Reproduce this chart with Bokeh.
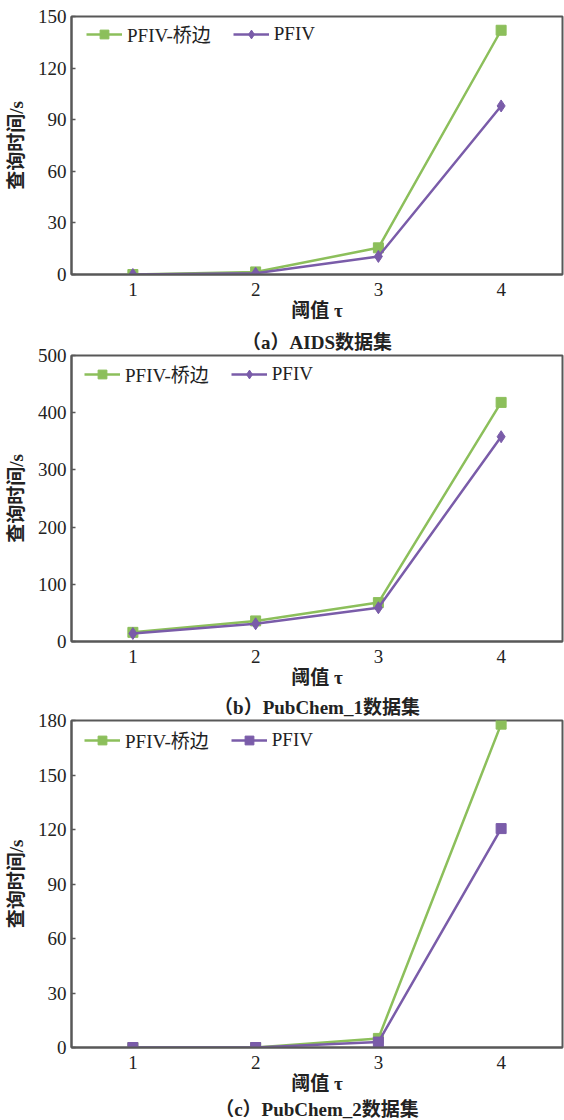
from bokeh.plotting import figure
from bokeh.layouts import column
from bokeh.models import Range1d, FixedTicker, Legend, LegendItem, Title
from bokeh.embed import file_html
from bokeh.resources import INLINE

# threshold tau on the x axis
thresholds = [1, 2, 3, 4]
series_names = ["PFIV-桥边", "PFIV"]

# query time (s) per dataset
aids_bridge = [0, 1.5, 15.5, 142]
aids_pfiv = [0, 0.7, 10.5, 98]
pub1_bridge = [16, 36, 68, 418]
pub1_pfiv = [14, 31, 59, 358]
pub2_bridge = [0, 0, 5, 178]
pub2_pfiv = [0, 0, 3, 120.5]

ticks_aids = [0, 30, 60, 90, 120, 150]
ticks_pub1 = [0, 100, 200, 300, 400, 500]
ticks_pub2 = [0, 30, 60, 90, 120, 150, 180]

captions = ["（a）AIDS数据集", "（b）PubChem_1数据集", "（c）PubChem_2数据集"]
x_label = "阈值 τ"
y_label = "查询时间/s"

GREEN = "#8cbf5b"
PURPLE = "#7a5ca9"
AXIS = "#585858"
TEXT = "#222222"
SERIF = "'Liberation Serif', 'Noto Sans CJK SC'"


def caption_title(text, standoff):
    return Title(text=text, align="center", text_font=SERIF,
                 text_font_size="19px", text_font_style="bold",
                 text_color=TEXT, standoff=standoff)


def panel(bridge, pfiv, yticks, second_marker, height, left, right,
          top, frame_h, legend_dx, legend_dy, title_above=None,
          title_below=None):
    p = figure(width=564, height=height, output_backend="svg",
               toolbar_location=None, min_border_left=left,
               min_border_right=right, min_border_top=top,
               min_border_bottom=height - top - frame_h,
               x_range=Range1d(0.5, 4.5),
               y_range=Range1d(yticks[0], yticks[-1]))
    p.grid.visible = False
    p.background_fill_color = "white"
    p.border_fill_color = "white"
    p.outline_line_color = AXIS
    p.outline_line_width = 2

    p.xaxis.ticker = FixedTicker(ticks=thresholds)
    p.yaxis.ticker = FixedTicker(ticks=yticks)
    for ax in (p.xaxis, p.yaxis):
        ax.axis_line_color = AXIS
        ax.axis_line_width = 2
        ax.major_tick_line_color = AXIS
        ax.major_tick_line_width = 1.5
        ax.minor_tick_line_color = None
        ax.major_label_text_font = SERIF
        ax.major_label_text_font_size = "19px"
        ax.major_label_text_color = TEXT
        ax.axis_label_text_font = SERIF
        ax.axis_label_text_font_style = "bold"
        ax.axis_label_text_font_size = "19px"
        ax.axis_label_text_color = TEXT
    p.xaxis.major_tick_in = 0
    p.xaxis.major_tick_out = 0
    p.yaxis.major_tick_in = 4
    p.yaxis.major_tick_out = 0
    p.xaxis.major_label_standoff = 8
    p.yaxis.major_label_standoff = 5
    p.xaxis.axis_label = x_label
    p.yaxis.axis_label = y_label
    p.xaxis.axis_label_standoff = 1
    p.yaxis.axis_label_standoff = 8

    l1 = p.line(thresholds, bridge, line_color=GREEN, line_width=2.5)
    m1 = p.scatter(thresholds, bridge, marker="square", size=10,
                   fill_color=GREEN, line_color=GREEN)
    l2 = p.line(thresholds, pfiv, line_color=PURPLE, line_width=2.5)
    if second_marker == "diamond":
        m2 = p.scatter(thresholds, pfiv, marker="diamond", size=12,
                       fill_color=PURPLE, line_color=PURPLE)
    else:
        m2 = p.scatter(thresholds, pfiv, marker="square", size=10,
                       fill_color=PURPLE, line_color=PURPLE)

    legend = Legend(items=[LegendItem(label=series_names[0], renderers=[l1, m1]),
                           LegendItem(label=series_names[1], renderers=[l2, m2])],
                    location=(legend_dx, frame_h - legend_dy),
                    orientation="horizontal", glyph_width=36, glyph_height=22,
                    label_height=22, label_standoff=5, spacing=22, padding=0,
                    margin=0, border_line_alpha=0, background_fill_alpha=0,
                    label_text_font=SERIF, label_text_font_size="19px",
                    label_text_color=TEXT)
    p.add_layout(legend, "center")

    if title_above is not None:
        p.add_layout(caption_title(title_above, 6), "above")
    if title_below is not None:
        p.add_layout(caption_title(title_below, 1), "below")
    return p


pa = panel(aids_bridge, aids_pfiv, ticks_aids, "diamond",
           325, 71, 2, 16, 258, 15, 31)
pb = panel(pub1_bridge, pub1_pfiv, ticks_pub1, "diamond",
           365, 67, 0, 30, 287, 13, 33, title_above=captions[0])
pc = panel(pub2_bridge, pub2_pfiv, ticks_pub2, "square",
           430, 68, 0, 30, 328, 13, 34, title_above=captions[1],
           title_below=captions[2])

page = column(pa, pb, pc, spacing=0)
open("out.html", "w").write(file_html(page, INLINE))
